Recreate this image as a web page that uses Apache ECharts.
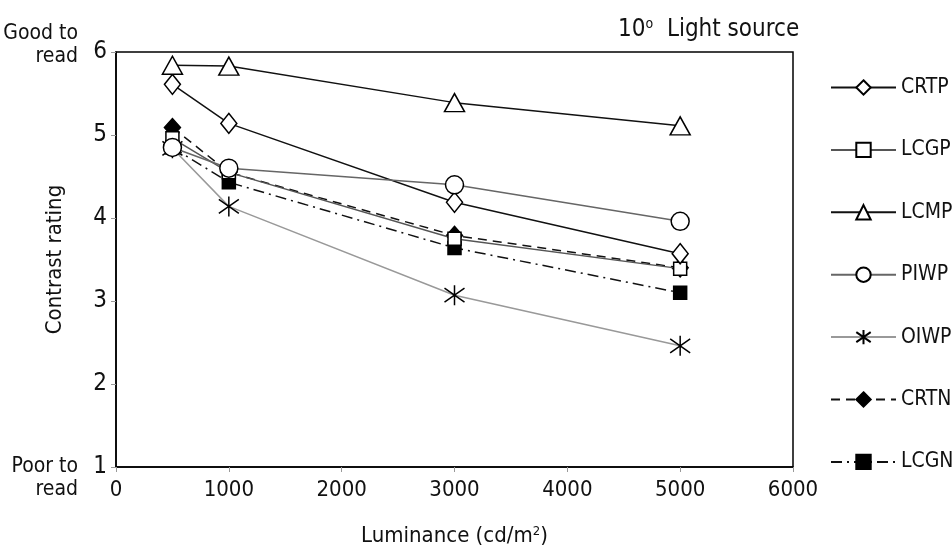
<!DOCTYPE html>
<html>
<head>
<meta charset="utf-8">
<script src="https://cdn.jsdelivr.net/npm/echarts@6/dist/echarts.min.js"></script>
<style>
  html, body { margin: 0; padding: 0; background: #fff; }
  #chart { width: 952px; height: 555px; }
</style>
</head>
<body>
<div id="chart"></div>
<script>
// Luminance levels (cd/m2) at which each display was rated
const luminance = [500, 1000, 3000, 5000];

// Mean contrast ratings per display type
const CRTP = [5.61, 5.14, 4.19, 3.57];
const LCGP = [4.96, 4.55, 3.75, 3.39];
const LCMP = [5.84, 5.83, 5.39, 5.11];
const PIWP = [4.85, 4.60, 4.40, 3.96];
const OIWP = [4.84, 4.14, 3.07, 2.46];
const CRTN = [5.09, 4.55, 3.79, 3.40];
const LCGN = [4.85, 4.43, 3.64, 3.10];

const xTicks = [0, 1000, 2000, 3000, 4000, 5000, 6000];
const yTicks = [1, 2, 3, 4, 5, 6];

const FONT = "'Liberation Sans Narrow', 'Arial Narrow', 'DejaVu Sans Condensed', 'Liberation Sans', sans-serif";
const ASTERISK = 'path://M10 0 L10 20 M2 3 L18 17 M2 17 L18 3';

function pairs(values) {
  return luminance.map((x, i) => [x, values[i]]);
}

function line(name, values, opts) {
  return {
    name: name,
    type: 'line',
    data: pairs(values),
    z: opts.z,
    symbol: opts.symbol,
    symbolSize: opts.size,
    showAllSymbol: true,
    lineStyle: { color: opts.lineColor, width: opts.width || 1.5, type: opts.dash || 'solid' },
    itemStyle: {
      color: opts.fill,
      borderColor: '#000',
      borderWidth: opts.borderWidth === undefined ? 1.5 : opts.borderWidth
    },
    emphasis: { disabled: true },
    animation: false
  };
}

const chart = echarts.init(document.getElementById('chart'), null, { renderer: 'canvas' });

chart.setOption({
  backgroundColor: '#fff',
  textStyle: { fontFamily: FONT },
  title: {
    text: '10{sup|o}  Light source',
    left: 613,
    top: 12,
    textStyle: {
      fontFamily: FONT,
      fontSize: 24,
      fontWeight: 'normal',
      color: '#111',
      rich: {
        sup: { fontFamily: FONT, fontSize: 14, color: '#111', verticalAlign: 'top', padding: [0, 0, 12, 0] }
      }
    }
  },
  grid: {
    left: 116, right: 159, top: 52, bottom: 88,
    show: true, borderColor: '#000', borderWidth: 1.5, backgroundColor: 'transparent'
  },
  legend: {
    orient: 'vertical',
    left: 825,
    top: 72,
    itemWidth: 65,
    itemHeight: 18,
    itemGap: 41.4,
    selectedMode: false,
    textStyle: { fontFamily: FONT, fontSize: 21, color: '#111' },
    data: ['CRTP', 'LCGP', 'LCMP', 'PIWP', 'OIWP', 'CRTN', 'LCGN']
  },
  xAxis: {
    type: 'value',
    min: xTicks[0],
    max: xTicks[xTicks.length - 1],
    interval: 1000,
    name: 'Luminance (cd/m{sup|2})',
    nameLocation: 'middle',
    nameGap: 58,
    nameTextStyle: {
      fontFamily: FONT, fontSize: 22, color: '#111',
      rich: { sup: { fontFamily: FONT, fontSize: 13, color: '#111', verticalAlign: 'top', padding: [0, 0, 10, 0] } }
    },
    axisLine: { show: true, lineStyle: { color: '#000', width: 1.5 } },
    axisTick: { show: true, inside: false, length: 5, lineStyle: { color: '#999' } },
    axisLabel: { fontFamily: FONT, fontSize: 22, color: '#111', margin: 12, formatter: v => String(v) },
    splitLine: { show: false }
  },
  yAxis: {
    type: 'value',
    min: yTicks[0],
    max: yTicks[yTicks.length - 1],
    interval: 1,
    name: 'Contrast rating',
    nameLocation: 'middle',
    nameGap: 50,
    nameRotate: 90,
    nameTextStyle: { fontFamily: FONT, fontSize: 22, color: '#111' },
    axisLine: { show: true, lineStyle: { color: '#000', width: 1.5 } },
    axisTick: { show: true, inside: false, length: 5, lineStyle: { color: '#999' } },
    axisLabel: { fontFamily: FONT, fontSize: 24, color: '#111', margin: 9, formatter: v => String(v) },
    splitLine: { show: false }
  },
  graphic: [
    { type: 'text', right: 874, top: 22, style: { text: 'Good to\nread', fontFamily: FONT, fontSize: 21, lineHeight: 23, fill: '#111', textAlign: 'right' } },
    { type: 'text', right: 874, top: 455, style: { text: 'Poor to\nread', fontFamily: FONT, fontSize: 21, lineHeight: 23, fill: '#111', textAlign: 'right' } }
  ],
  series: [
    line('CRTP', CRTP, { symbol: 'diamond', size: [16, 20], fill: '#fff', lineColor: '#111', z: 6 }),
    line('LCGP', LCGP, { symbol: 'rect', size: 13, fill: '#fff', lineColor: '#555', z: 5 }),
    line('LCMP', LCMP, { symbol: 'triangle', size: [20, 18], fill: '#fff', lineColor: '#111', z: 6 }),
    line('PIWP', PIWP, { symbol: 'circle', size: 18, fill: '#fff', lineColor: '#666', z: 7 }),
    line('OIWP', OIWP, { symbol: ASTERISK, size: 20, fill: 'none', lineColor: '#999', z: 2 }),
    line('CRTN', CRTN, { symbol: 'diamond', size: [16, 18], fill: '#000', lineColor: '#111', dash: [9, 6], z: 3 }),
    line('LCGN', LCGN, { symbol: 'rect', size: 13, fill: '#000', lineColor: '#111', dash: [11, 5, 2, 5], z: 4 })
  ]
});
</script>
</body>
</html>
